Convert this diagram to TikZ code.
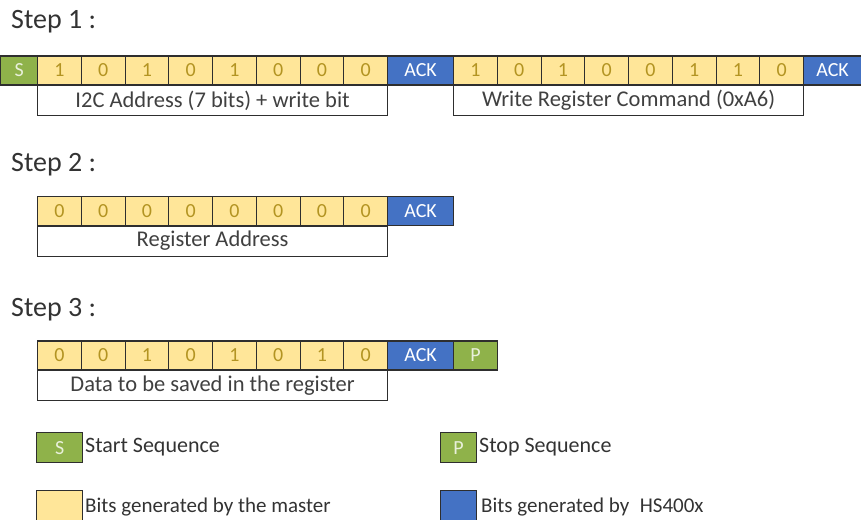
\documentclass[tikz,border=0pt]{standalone}
\usepackage{fontspec}
\setmainfont{Carlito}
\usepackage{xcolor}
\usetikzlibrary{positioning}

\definecolor{bitfill}{HTML}{FFE699}
\definecolor{bittext}{HTML}{B39422}
\definecolor{ackfill}{HTML}{4472C4}
\definecolor{seqfill}{HTML}{8FB24A}
\definecolor{frame}{HTML}{2E2E2E}

\begin{document}
\begin{tikzpicture}[x=1pt, y=-1pt,
  every node/.style={font=\fontsize{20}{20}\selectfont, inner sep=0pt},
  cell/.style={draw=frame, line width=1.2pt, minimum height=29pt, anchor=west},
  bit/.style ={cell, fill=bitfill, text=bittext, minimum width=43.75pt},
  ack/.style ={cell, fill=ackfill, text=white, minimum width=66pt},
  seq/.style ={cell, fill=seqfill, text=white!80!seqfill},
  lbl/.style ={draw=frame, line width=1.2pt, fill=white, minimum width=350pt,
               minimum height=30pt, anchor=north west,
               font=\fontsize{22.5}{22.5}\selectfont, text=black!75},
  stp/.style ={anchor=west, font=\fontsize{28}{28}\selectfont, text=black!80},
  key/.style ={draw=frame, line width=1.2pt, minimum width=46pt,
               minimum height=30pt, anchor=north west},
  keytxt/.style={anchor=west, font=\fontsize{22}{22}\selectfont, text=black!80}
]
\useasboundingbox (0,0) rectangle (861,519);

%% step 1
\node[stp] (st1) at (11,22) {Step 1 :};
\node[seq, minimum width=37pt] (s1) at (0,70.5) {S};
\foreach \b [count=\i from 0] in {1,0,1,0,1,0,0,0}
  \node[bit] (a\i) at (37+\i*43.75,70.5) {\b};
\node[ack] (ack1) at (387,70.5) {ACK};
\foreach \b [count=\i from 0] in {1,0,1,0,0,1,1,0}
  \node[bit] (c\i) at (453+\i*43.75,70.5) {\b};
\node[ack, minimum width=58pt] (ack2) at (803,70.5) {ACK};
\node[lbl] (lab1) at (37,85) {I2C Address (7 bits) + write bit};
\node[lbl] (lab2) at (453,85) {Write Register Command (0xA6)};

%% step 2
\node[stp] (st2) at (11,165) {Step 2 :};
\foreach \b [count=\i from 0] in {0,0,0,0,0,0,0,0}
  \node[bit] (r\i) at (37+\i*43.75,211) {\b};
\node[ack] (ack3) at (387,211) {ACK};
\node[lbl] (lab3) at (37,225.5) {Register Address};

%% step 3
\node[stp] (st3) at (11,310) {Step 3 :};
\foreach \b [count=\i from 0] in {0,0,1,0,1,0,1,0}
  \node[bit] (d\i) at (37+\i*43.75,355.5) {\b};
\node[ack] (ack4) at (387,355.5) {ACK};
\node[seq, minimum width=44pt] (p1) at (453,355.5) {P};
\node[lbl] (lab4) at (37,370) {Data to be saved in the register};

%% legend
\node[key, fill=seqfill, text=white!80!seqfill] (kS) at (36,432) {S};
\node[keytxt] (tS) at (85,447) {Start Sequence};
\node[key, fill=seqfill, text=white!80!seqfill, minimum width=36pt] (kP) at (440,432) {P};
\node[keytxt] (tP) at (479,447) {Stop Sequence};
\node[key, fill=bitfill] (kM) at (36,490) {};
\node[keytxt, font=\fontsize{21}{21}\selectfont] (tM) at (85,507) {Bits generated by the master};
\node[key, fill=ackfill, minimum width=36pt] (kH) at (440,490) {};
\node[keytxt, font=\fontsize{21}{21}\selectfont] (tH) at (481,507) {Bits generated by\enspace HS400x};
\end{tikzpicture}
\end{document}
